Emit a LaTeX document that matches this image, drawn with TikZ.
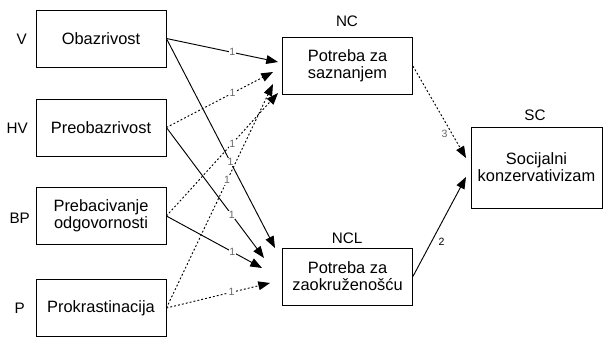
\documentclass[tikz,border=0pt]{standalone}
\usepackage{fontspec}
\setmainfont{Liberation Sans}
\usetikzlibrary{arrows.meta}

\begin{document}
\begin{tikzpicture}[x=0.03cm,y=-0.03cm,
	box/.style={draw,line width=0.7pt,minimum width=3.9cm,minimum height=1.71cm,align=center,font=\fontsize{14}{14.5}\selectfont},
	tag/.style={font=\fontsize{13}{14}\selectfont},
	link/.style={line width=0.8pt,-{Triangle[length=10pt,width=7.5pt]}},
	weaklink/.style={link,dash pattern=on 1.6pt off 1.8pt},
	wt/.style={font=\fontsize{9}{10}\selectfont,text=black!60,fill=white,inner sep=0.6pt}]
	\useasboundingbox (0,0) rectangle (605,338);
	% draw boxes
	\node[box] (obaz) at (101,38.5) {Obazrivost};
	\node[box] (preob) at (101,127.5) {Preobazrivost};
	\node[box] (prebac) at (101,216) {Prebacivanje\\odgovornosti};
	\node[box] (prokr) at (101,308) {Prokrastinacija};
	\node[box] (nc) at (347.5,66) {Potreba za\\saznanjem};
	\node[box] (ncl) at (347.5,276.5) {Potreba za\\zaokruženošću};
	\node[box,minimum width=3.93cm,minimum height=2.43cm] (sc) at (536.5,167.5) {Socijalni\\konzervativizam};
	% box labels
	\node[tag,anchor=east] (lv) at (31,39) {V};
	\node[tag,anchor=east] (lhv) at (32,128) {HV};
	\node[tag,anchor=east] (lbp) at (34,218) {BP};
	\node[tag,anchor=east] (lp) at (29,308) {P};
	\node[tag] (lnc) at (347,21) {NC};
	\node[tag] (lncl) at (347,238) {NCL};
	\node[tag] (lsc) at (535,115) {SC};
	% arrow tips
	\coordinate (nc1) at (278,62);
	\coordinate (nc2) at (273,72);
	\coordinate (nc3) at (273,84);
	\coordinate (nc4) at (278,93);
	\coordinate (ncl1) at (275,248);
	\coordinate (ncl2) at (264,258);
	\coordinate (ncl3) at (262,268);
	\coordinate (ncl4) at (270,283);
	\coordinate (sc1) at (466,158);
	\coordinate (sc2) at (466,177);
	% draw paths to NC
	\draw[link] (obaz.east) -- node[wt,pos=0.59] {1} (nc1);
	\draw[weaklink] (preob.east) -- node[wt,pos=0.62] {1} (nc2);
	\draw[weaklink] (prokr.east) -- node[wt,pos=0.57] {1} (nc3);
	\draw[weaklink] (prebac.east) -- node[wt,pos=0.59] {1} (nc4);
	% draw paths to NCL
	\draw[link] (obaz.east) -- node[wt,pos=0.59] {1} (ncl1);
	\draw[link] (preob.east) -- node[wt,pos=0.67] {1} (ncl2);
	\draw[link] (prebac.east) -- node[wt,pos=0.69] {1} (ncl3);
	\draw[weaklink] (prokr.east) -- node[wt,pos=0.63] {1} (ncl4);
	% draw paths to SC
	\draw[weaklink] (nc.east) -- node[wt,fill=none,pos=0.74,left=3pt] {3} (sc1);
	\draw[link] (ncl.east) -- node[wt,fill=none,text=black,pos=0.35,right=5pt] {2} (sc2);
\end{tikzpicture}
\end{document}
